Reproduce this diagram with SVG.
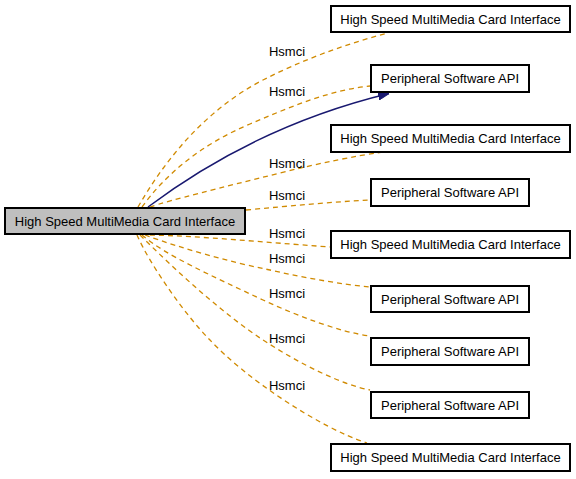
<svg xmlns="http://www.w3.org/2000/svg" width="576" height="479" viewBox="0 0 576 479">
<defs>
<style>
.box{fill:#ffffff;stroke:#000000;stroke-width:2}
.main{fill:#bfbfbf;stroke:#000000;stroke-width:2}
.t{font-family:"Liberation Sans",Arial,sans-serif;font-size:13px;fill:#000000;text-anchor:middle}
.d{fill:none;stroke:#d08a00;stroke-width:1.3;stroke-dasharray:5,4}
.s{fill:none;stroke:#191970;stroke-width:1.5}
</style>
<marker id="arr" viewBox="0 0 11 8" refX="11" refY="4" markerWidth="11" markerHeight="8" markerUnits="userSpaceOnUse" orient="auto">
<path d="M0,0 L11,4 L0,8 z" fill="#191970" stroke="#191970"/>
</marker>
</defs>
<rect width="576" height="479" fill="#ffffff"/>
<g id="connectors">
<path class="d" d="M138,207 C165,160 205,110 263,80 C300,61 345,44 388,33"/>
<path class="d" d="M142,207 C165,175 200,145 250,124 C290,107 330,90 370,86"/>
<path class="s" d="M148,207 C200,168 280,120 389,93.5" marker-end="url(#arr)"/>
<path class="d" d="M150,207 C170,200 220,188 280,173 C320,163 355,156 383,152"/>
<path class="d" d="M246,210 C290,206 330,202 370,200"/>
<path class="d" d="M150,235 C200,236 260,242 330,247"/>
<path class="d" d="M145,235 C180,248 230,262 270,270 C305,278 340,284 370,287"/>
<path class="d" d="M142,235 C165,255 210,275 263,300 C300,317 340,332 370,336"/>
<path class="d" d="M140,235 C180,275 225,315 263,340 C300,364 340,384 370,390"/>
<path class="d" d="M137,235 C150,265 186,316 210,340 C245,378 320,428 367,443"/>
<text class="t" x="287" y="56">Hsmci</text>
<text class="t" x="287" y="96">Hsmci</text>
<text class="t" x="287" y="168">Hsmci</text>
<text class="t" x="287" y="200">Hsmci</text>
<text class="t" x="287" y="238">Hsmci</text>
<text class="t" x="287" y="263">Hsmci</text>
<text class="t" x="287" y="298">Hsmci</text>
<text class="t" x="287" y="343">Hsmci</text>
<text class="t" x="287" y="390">Hsmci</text>
</g>
<g id="node-main">
<rect class="main" x="5" y="208" width="240" height="26"/>
<text class="t" x="125" y="225.5">High Speed MultiMedia Card Interface</text>
</g>
<g id="node-h1">
<rect class="box" x="331" y="6" width="239" height="26"/>
<text class="t" x="450.5" y="23.5">High Speed MultiMedia Card Interface</text>
</g>
<g id="node-p1">
<rect class="box" x="371" y="65" width="158" height="27"/>
<text class="t" x="450" y="83">Peripheral Software API</text>
</g>
<g id="node-h2">
<rect class="box" x="331" y="125" width="239" height="27"/>
<text class="t" x="450.5" y="143">High Speed MultiMedia Card Interface</text>
</g>
<g id="node-p2">
<rect class="box" x="371" y="179" width="158" height="27"/>
<text class="t" x="450" y="197">Peripheral Software API</text>
</g>
<g id="node-h3">
<rect class="box" x="331" y="231" width="239" height="27"/>
<text class="t" x="450.5" y="249">High Speed MultiMedia Card Interface</text>
</g>
<g id="node-p3">
<rect class="box" x="371" y="286" width="158" height="26"/>
<text class="t" x="450" y="303.5">Peripheral Software API</text>
</g>
<g id="node-p4">
<rect class="box" x="371" y="338" width="158" height="27"/>
<text class="t" x="450" y="356">Peripheral Software API</text>
</g>
<g id="node-p5">
<rect class="box" x="371" y="392" width="158" height="26"/>
<text class="t" x="450" y="409.5">Peripheral Software API</text>
</g>
<g id="node-h4">
<rect class="box" x="331" y="444" width="239" height="27"/>
<text class="t" x="450.5" y="462">High Speed MultiMedia Card Interface</text>
</g>
</svg>
